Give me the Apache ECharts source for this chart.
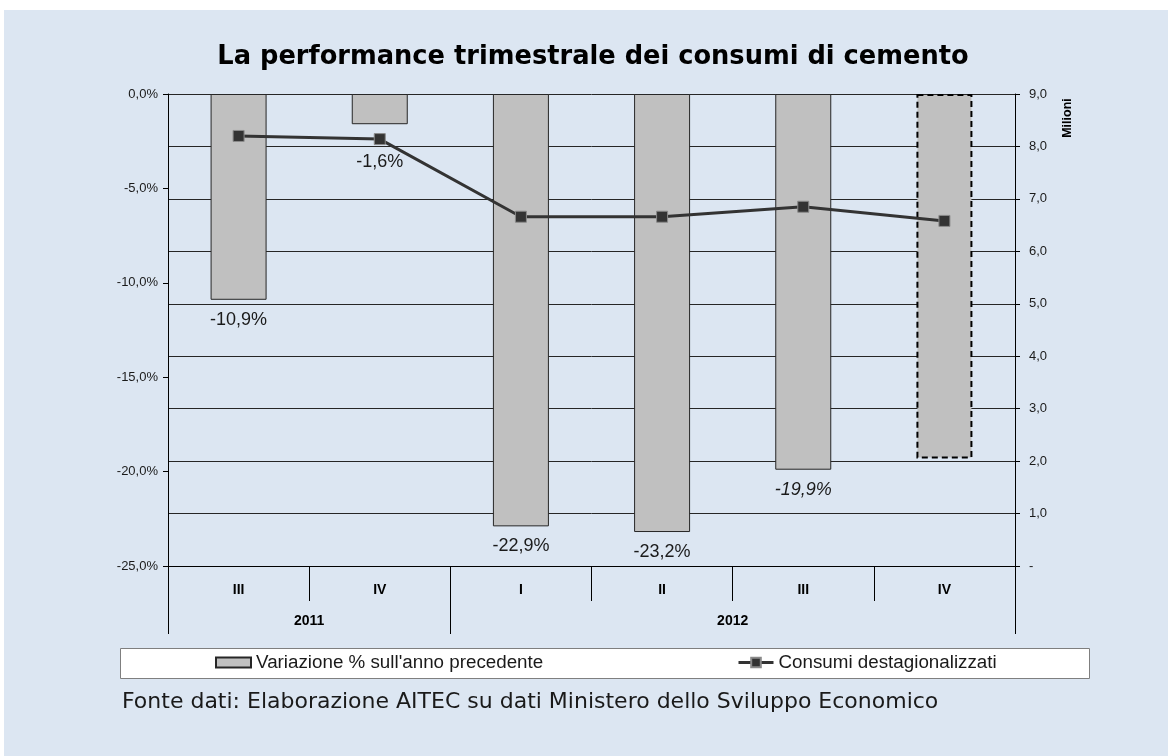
<!DOCTYPE html>
<html>
<head>
<meta charset="utf-8">
<script src="https://cdn.jsdelivr.net/npm/echarts@6/dist/echarts.min.js"></script>
<style>
html,body{margin:0;padding:0;background:#ffffff;}
#c{width:1168px;height:756px;}
</style>
</head>
<body>
<div id="c"></div>
<script>
const quarters = ['III', 'IV', 'I', 'II', 'III', 'IV'];
const years = ['2011', '2012'];
const variazione = [-10.9, -1.6, -22.9, -23.2, -19.9, -19.3];
const consumi = [8.20, 8.14, 6.66, 6.66, 6.85, 6.58];
const seriesNames = ["Variazione % sull'anno precedente", 'Consumi destagionalizzati'];

const fmt1 = v => v.toFixed(1).replace('.', ',');

const barData = variazione.map((v, i) => {
  const item = { value: v };
  const label = {};
  if (i === 1) label.distance = 29;
  if (i === 4) label.fontStyle = 'italic';
  if (i === variazione.length - 1) {
    label.show = false;
    item.itemStyle = { borderType: [6, 4], borderWidth: 2, borderColor: '#000' };
  }
  item.label = label;
  return item;
});

const chart = echarts.init(document.getElementById('c'));
const textColor = '#1a1a1a';
chart.setOption({
  animation: false,
  backgroundColor: '#ffffff',
  title: {
    text: 'La performance trimestrale dei consumi di cemento',
    left: 588, top: 39, textAlign: 'center',
    textStyle: { fontFamily: 'DejaVu Sans', fontWeight: 'bold', fontSize: 25.7, color: '#000' }
  },
  graphic: [
    { type: 'rect', z: -10, silent: true, shape: { x: 4, y: 10, width: 1164, height: 746 }, style: { fill: '#dce6f2' } },
    { type: 'rect', z: -5, silent: true, shape: { x: 120.5, y: 648.5, width: 969, height: 30 }, style: { fill: '#ffffff', stroke: '#7f7f7f', lineWidth: 1 } },
    { type: 'text', left: 122, top: 691, style: { text: 'Fonte dati: Elaborazione AITEC su dati Ministero dello Sviluppo Economico', font: '22px "DejaVu Sans"', fill: '#1a1a1a' } },
    { type: 'text', x: 1068, y: 118, rotation: Math.PI / 2, style: { text: 'Milioni', font: 'bold 12.5px "Liberation Sans"', fill: '#000', align: 'center', verticalAlign: 'middle' } }
  ],
  legend: [
    { data: [{ name: seriesNames[0], icon: 'rect' }], left: 215, top: 653, itemWidth: 35, itemHeight: 10, itemGap: 4, padding: 0,
      textStyle: { fontFamily: 'Liberation Sans', fontSize: 18.8, color: textColor } },
    { data: [seriesNames[1]], left: 737, top: 653, itemWidth: 35, itemHeight: 12, padding: 0,
      lineStyle: { width: 3 },
      textStyle: { fontFamily: 'Liberation Sans', fontSize: 18.8, color: textColor } }
  ],
  grid: { left: 168, right: 153, top: 94, bottom: 190, containLabel: false },
  xAxis: [
    {
      type: 'category', data: quarters, position: 'bottom',
      axisLine: { show: true, onZero: false, lineStyle: { color: '#000', width: 1 } },
      axisTick: { show: true, interval: 0, length: 35, alignWithLabel: false, lineStyle: { color: '#000' } },
      axisLabel: { interval: 0, margin: 17, fontFamily: 'Liberation Sans', fontWeight: 'bold', fontSize: 14, color: '#000' },
      splitLine: { show: false }
    },
    {
      type: 'value', min: 0, max: 6, position: 'bottom', gridIndex: 0,
      axisLine: { show: false, onZero: false },
      axisTick: { show: true, customValues: [0, 2, 6], length: 68, lineStyle: { color: '#000' } },
      axisLabel: { customValues: [1, 4], margin: 48, formatter: v => (v < 2 ? years[0] : years[1]),
        fontFamily: 'Liberation Sans', fontWeight: 'bold', fontSize: 14, color: '#000' },
      splitLine: { show: false }
    }
  ],
  yAxis: [
    {
      type: 'value', min: -25, max: 0, interval: 5, position: 'left',
      axisLine: { show: true, onZero: false, lineStyle: { color: '#000' } },
      axisTick: { show: true, length: 5, lineStyle: { color: '#000' } },
      axisLabel: { formatter: v => fmt1(v) + '%', margin: 10, fontFamily: 'Liberation Sans', fontSize: 13, color: textColor },
      splitLine: { show: false }
    },
    {
      type: 'value', min: 0, max: 9, interval: 1, position: 'right',
      axisLine: { show: true, onZero: false, lineStyle: { color: '#000' } },
      axisTick: { show: true, length: 5, lineStyle: { color: '#000' } },
      axisLabel: { formatter: v => (v === 0 ? '-' : fmt1(v)), margin: 14, fontFamily: 'Liberation Sans', fontSize: 13, color: textColor },
      splitLine: { show: true, lineStyle: { color: '#262626', width: 1 } }
    }
  ],
  series: [
    {
      name: seriesNames[0], type: 'bar', xAxisIndex: 0, yAxisIndex: 0,
      data: barData, barWidth: 56,
      itemStyle: { color: '#c0c0c0', borderColor: '#262626', borderWidth: 1 },
      label: { show: true, position: 'bottom', distance: 11, formatter: p => fmt1(p.value) + '%',
        fontFamily: 'Liberation Sans', fontSize: 18, color: textColor },
      z: 2
    },
    {
      name: seriesNames[1], type: 'line', xAxisIndex: 0, yAxisIndex: 1,
      data: consumi, symbol: 'rect', symbolSize: 11,
      lineStyle: { color: '#333333', width: 3 },
      itemStyle: { color: '#333333', borderColor: '#8a8a8a', borderWidth: 1 },
      z: 3
    }
  ]
});
</script>
</body>
</html>
